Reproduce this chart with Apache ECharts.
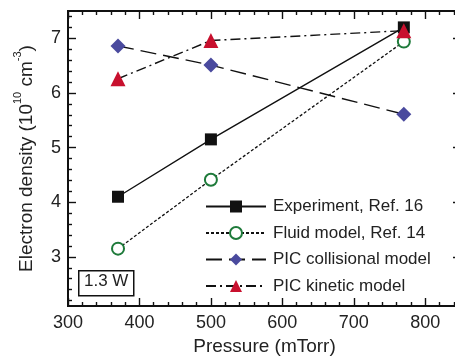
<!DOCTYPE html>
<html>
<head>
<meta charset="utf-8">
<script src="https://cdn.jsdelivr.net/npm/echarts@6/dist/echarts.min.js"></script>
<style>
  html, body { margin: 0; padding: 0; background: #fff; }
  #chart { width: 455px; height: 356px; }
</style>
</head>
<body>
<div id="chart"></div>
<script>
const pressure = [370, 500, 770];
const experiment = [4.1, 5.15, 7.2];
const fluidModel = [3.15, 4.41, 6.94];
const picCollisional = [6.86, 6.51, 5.61];
const picKinetic = [6.26, 6.96, 7.14];

const xMajorTicks = [300, 400, 500, 600, 700, 800];
const xMinorTicks = [320, 340, 360, 380, 420, 440, 460, 480, 520, 540, 560, 580,
  620, 640, 660, 680, 720, 740, 760, 780, 820, 840];
const yMajorTicks = [3, 4, 5, 6, 7];
const yMinorTicks = [2.2, 2.4, 2.6, 2.8, 3.2, 3.4, 3.6, 3.8, 4.2, 4.4, 4.6, 4.8,
  5.2, 5.4, 5.6, 5.8, 6.2, 6.4, 6.6, 6.8, 7.2, 7.4];

const font = "'Liberation Sans', Arial, sans-serif";
const X_MIN = 300, X_MAX = 850, Y_MIN = 2.1, Y_MAX = 7.5;

const chart = echarts.init(document.getElementById("chart"), null, { renderer: "canvas" });

function xAxisOf(position, ticks, len, withLabels) {
  return {
    type: "value",
    position,
    min: X_MIN,
    max: X_MAX,
    splitLine: { show: false },
    axisLine: { show: true, onZero: false, lineStyle: { color: "#111", width: 2 } },
    axisTick: { show: true, inside: true, length: len, customValues: ticks, lineStyle: { color: "#111", width: 1.4 } },
    axisLabel: withLabels
      ? { show: true, customValues: xMajorTicks, color: "#222", fontFamily: font, fontSize: 18, margin: 8 }
      : { show: false },
  };
}

function yAxisOf(position, ticks, len, withLabels) {
  return {
    type: "value",
    position,
    min: Y_MIN,
    max: Y_MAX,
    splitLine: { show: false },
    axisLine: { show: true, onZero: false, lineStyle: { color: "#111", width: 2 } },
    axisTick: { show: true, inside: true, length: len, customValues: ticks, lineStyle: { color: "#111", width: 1.4 } },
    axisLabel: withLabels
      ? { show: true, customValues: yMajorTicks, color: "#222", fontFamily: font, fontSize: 18, margin: 7 }
      : { show: false },
  };
}

const bottom = xAxisOf("bottom", xMajorTicks, 8, true);
bottom.name = "Pressure (mTorr)";
bottom.nameLocation = "middle";
bottom.nameGap = 30;
bottom.nameTextStyle = { color: "#222", fontFamily: font, fontSize: 19 };

const left = yAxisOf("left", yMajorTicks, 8, true);
left.name = "{a|Electron density (10}{s|10}{a| cm}{s|-3}{a|)}";
left.nameLocation = "middle";
left.nameGap = 32;
left.nameTextStyle = {
  color: "#222",
  fontFamily: font,
  rich: {
    a: { fontFamily: font, fontSize: 19, color: "#222", lineHeight: 24, verticalAlign: "bottom" },
    s: { fontFamily: font, fontSize: 11, color: "#222", lineHeight: 24, verticalAlign: "top" },
  },
};

chart.setOption({
  animation: false,
  grid: { left: 68, top: 11, right: -6, bottom: 50, outerBoundsMode: "none", containLabel: false },
  xAxis: [
    bottom,
    xAxisOf("bottom", xMinorTicks, 4, false),
    xAxisOf("top", xMajorTicks, 8, false),
    xAxisOf("top", xMinorTicks, 4, false),
  ],
  yAxis: [
    left,
    yAxisOf("left", yMinorTicks, 4, false),
    yAxisOf("right", yMajorTicks, 8, false),
    yAxisOf("right", yMinorTicks, 4, false),
  ],
  legend: {
    orient: "vertical",
    left: 200,
    top: 193,
    itemWidth: 60,
    itemHeight: 15,
    itemGap: 9.5,
    textStyle: { color: "#222", fontFamily: font, fontSize: 17, padding: [0, 0, 0, 2] },
    data: ["Experiment, Ref. 16", "Fluid model, Ref. 14", "PIC collisional model", "PIC kinetic model"],
  },
  graphic: [
    {
      type: "rect",
      left: 78,
      top: 270,
      shape: { width: 55, height: 25 },
      style: { fill: "#fff", stroke: "#111", lineWidth: 1.5 },
    },
    {
      type: "text",
      left: 84,
      top: 273,
      style: { text: "1.3 W", fill: "#222", font: `17px ${font}` },
    },
  ],
  series: [
    {
      name: "Experiment, Ref. 16",
      type: "line",
      data: pressure.map((p, i) => [p, experiment[i]]),
      symbol: "rect",
      symbolSize: 12,
      itemStyle: { color: "#111" },
      lineStyle: { color: "#111", width: 1.4, type: "solid" },
      z: 4,
    },
    {
      name: "Fluid model, Ref. 14",
      type: "line",
      data: pressure.map((p, i) => [p, fluidModel[i]]),
      symbol: "emptyCircle",
      symbolSize: 12,
      itemStyle: { color: "#1e7a3a", borderWidth: 1.6 },
      lineStyle: { color: "#111", width: 1.3, type: [3, 2] },
      z: 3,
    },
    {
      name: "PIC collisional model",
      type: "line",
      data: pressure.map((p, i) => [p, picCollisional[i]]),
      symbol: "diamond",
      symbolSize: 15,
      itemStyle: { color: "#4a4a9e" },
      lineStyle: { color: "#111", width: 1.4, type: [16, 7] },
      z: 2,
    },
    {
      name: "PIC kinetic model",
      type: "line",
      data: pressure.map((p, i) => [p, picKinetic[i]]),
      symbol: "triangle",
      symbolSize: 15,
      itemStyle: { color: "#c8102e" },
      lineStyle: { color: "#111", width: 1.4, type: [10, 4, 2, 4] },
      z: 5,
    },
  ],
});
</script>
</body>
</html>
